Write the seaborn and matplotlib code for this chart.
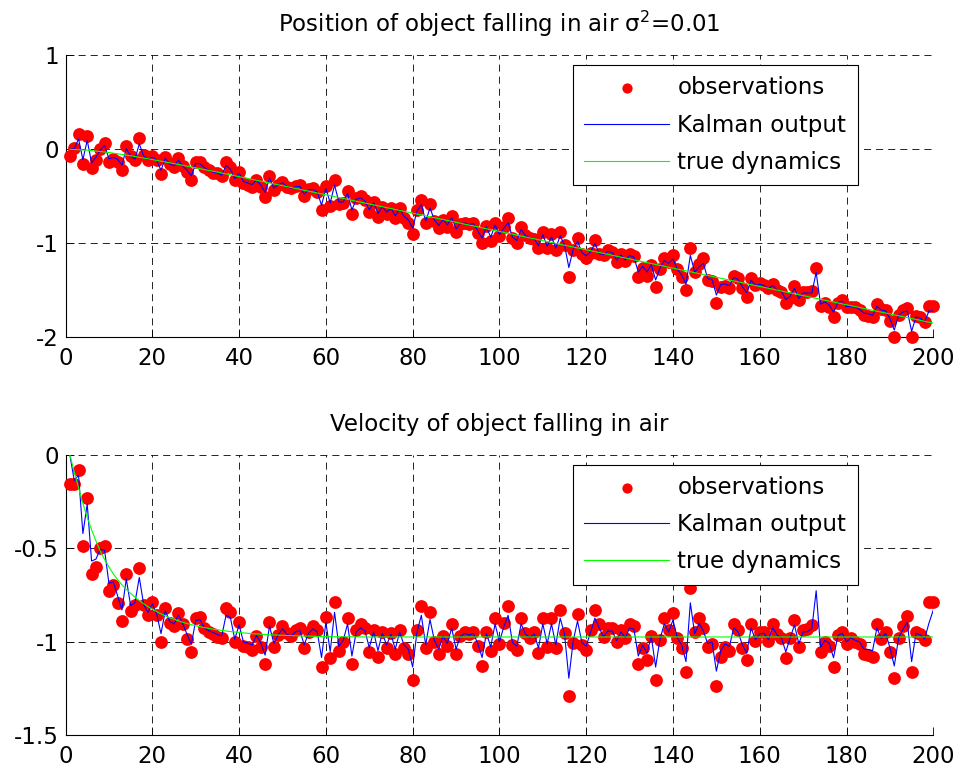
import matplotlib
matplotlib.use("Agg")
import matplotlib.pyplot as plt
import seaborn as sns

plt.rcParams['font.family'] = ['DejaVu Sans']
plt.rcParams['mathtext.fontset'] = 'dejavusans'
plt.rcParams['axes.unicode_minus'] = False

steps = list(range(1, 201))

pos_obs = [
    -0.071, 0.010, 0.159, -0.156, 0.142, -0.202, -0.114, 0.000, 0.070, -0.130,
    -0.107, -0.130, -0.220, 0.035, -0.071, -0.116, 0.117, -0.060, -0.114, -0.071,
    -0.114, -0.266, -0.078, -0.160, -0.185, -0.096, -0.180, -0.238, -0.326, -0.131,
    -0.131, -0.185, -0.220, -0.248, -0.255, -0.284, -0.131, -0.185, -0.326, -0.238,
    -0.362, -0.380, -0.397, -0.326, -0.397, -0.504, -0.284, -0.433, -0.378, -0.344,
    -0.397, -0.415, -0.390, -0.380, -0.497, -0.425, -0.415, -0.450, -0.646, -0.390,
    -0.603, -0.327, -0.582, -0.575, -0.440, -0.688, -0.522, -0.497, -0.540, -0.670,
    -0.557, -0.717, -0.610, -0.688, -0.628, -0.735, -0.628, -0.735, -0.788, -0.905,
    -0.646, -0.540, -0.788, -0.585, -0.760, -0.841, -0.750, -0.823, -0.710, -0.876,
    -0.790, -0.780, -0.800, -0.780, -0.887, -0.993, -0.816, -0.972, -0.780, -0.922,
    -0.823, -0.734, -0.947, -0.993, -0.823, -0.912, -0.940, -0.950, -1.054, -0.883,
    -1.054, -0.905, -1.071, -0.883, -1.018, -1.355, -1.071, -0.947, -1.114, -1.160,
    -1.100, -0.965, -1.114, -1.125, -1.070, -1.089, -1.196, -1.114, -1.185, -1.114,
    -1.135, -1.355, -1.266, -1.348, -1.231, -1.461, -1.277, -1.160, -1.196, -1.125,
    -1.277, -1.362, -1.497, -1.054, -1.302, -1.220, -1.160, -1.390, -1.397, -1.632,
    -1.468, -1.454, -1.479, -1.348, -1.373, -1.479, -1.568, -1.373, -1.444, -1.426,
    -1.440, -1.479, -1.433, -1.497, -1.514, -1.632, -1.578, -1.454, -1.603, -1.514,
    -1.514, -1.507, -1.266, -1.667, -1.632, -1.674, -1.780, -1.632, -1.603, -1.681,
    -1.674, -1.681, -1.709, -1.763, -1.770, -1.788, -1.646, -1.702, -1.709, -1.823,
    -1.993, -1.763, -1.709, -1.692, -1.993, -1.773, -1.788, -1.840, -1.667, -1.667,
]

pos_kal = [
    0.000, 0.007, 0.110, -0.111, 0.096, -0.145, -0.085, -0.007, 0.041, -0.101,
    -0.087, -0.105, -0.170, 0.006, -0.071, -0.104, 0.057, -0.070, -0.110, -0.083,
    -0.115, -0.224, -0.095, -0.155, -0.176, -0.115, -0.177, -0.221, -0.284, -0.151,
    -0.154, -0.195, -0.222, -0.244, -0.252, -0.275, -0.171, -0.212, -0.312, -0.254,
    -0.343, -0.359, -0.374, -0.327, -0.380, -0.458, -0.306, -0.413, -0.378, -0.357,
    -0.397, -0.413, -0.398, -0.394, -0.479, -0.432, -0.428, -0.454, -0.594, -0.418,
    -0.570, -0.380, -0.561, -0.560, -0.468, -0.645, -0.531, -0.517, -0.549, -0.643,
    -0.567, -0.682, -0.610, -0.668, -0.629, -0.706, -0.635, -0.712, -0.752, -0.837,
    -0.658, -0.587, -0.764, -0.625, -0.750, -0.810, -0.749, -0.803, -0.727, -0.846,
    -0.789, -0.785, -0.801, -0.790, -0.868, -0.945, -0.824, -0.936, -0.805, -0.907,
    -0.841, -0.782, -0.934, -0.969, -0.853, -0.918, -0.940, -0.950, -1.026, -0.909,
    -1.032, -0.931, -1.050, -0.921, -1.019, -1.258, -1.062, -0.978, -1.098, -1.133,
    -1.093, -1.002, -1.109, -1.120, -1.084, -1.100, -1.178, -1.124, -1.177, -1.130,
    -1.148, -1.305, -1.245, -1.305, -1.226, -1.390, -1.264, -1.185, -1.213, -1.167,
    -1.276, -1.338, -1.436, -1.129, -1.305, -1.251, -1.212, -1.376, -1.384, -1.550,
    -1.439, -1.432, -1.452, -1.364, -1.384, -1.461, -1.527, -1.393, -1.446, -1.436,
    -1.449, -1.479, -1.449, -1.497, -1.512, -1.597, -1.563, -1.479, -1.586, -1.527,
    -1.530, -1.528, -1.310, -1.646, -1.624, -1.656, -1.733, -1.632, -1.615, -1.673,
    -1.671, -1.679, -1.701, -1.742, -1.750, -1.766, -1.669, -1.711, -1.719, -1.801,
    -1.923, -1.765, -1.730, -1.721, -1.935, -1.784, -1.798, -1.837, -1.719, -1.722,
]

pos_true_x = [1, 5, 10, 15, 20, 25, 30, 35, 40, 45, 50, 60, 80, 100, 120, 140, 160, 180, 200]
pos_true_y = [0.0, -0.009, -0.034, -0.069, -0.109, -0.152, -0.197, -0.243, -0.291, -0.339,
              -0.387, -0.484, -0.679, -0.874, -1.069, -1.264, -1.459, -1.654, -1.849]

vel_obs = [
    -0.155, -0.155, -0.080, -0.490, -0.232, -0.640, -0.600, -0.500, -0.490, -0.726,
    -0.697, -0.791, -0.887, -0.640, -0.834, -0.803, -0.603, -0.803, -0.857, -0.786,
    -0.857, -1.003, -0.821, -0.900, -0.916, -0.844, -0.905, -0.985, -1.057, -0.875,
    -0.866, -0.928, -0.946, -0.959, -0.973, -0.982, -0.821, -0.839, -1.003, -0.893,
    -1.023, -1.030, -1.044, -0.970, -1.027, -1.119, -0.896, -1.027, -0.964, -0.916,
    -0.955, -0.970, -0.937, -0.928, -1.036, -0.950, -0.916, -0.937, -1.134, -0.866,
    -1.089, -0.789, -1.048, -1.003, -0.875, -1.121, -0.937, -0.905, -0.928, -1.057,
    -0.937, -1.080, -0.946, -1.036, -0.955, -1.068, -0.937, -1.036, -1.068, -1.205,
    -0.937, -0.809, -1.036, -0.841, -1.000, -1.068, -0.970, -1.023, -0.907, -1.068,
    -0.970, -0.948, -0.960, -0.948, -1.025, -1.132, -0.948, -1.050, -0.875, -1.012,
    -0.898, -0.809, -1.018, -1.045, -0.875, -0.952, -0.982, -0.950, -1.059, -0.875,
    -1.027, -0.875, -1.036, -0.830, -0.952, -1.291, -1.005, -0.852, -1.018, -1.045,
    -0.937, -0.830, -0.905, -0.973, -0.929, -0.929, -1.003, -0.937, -0.982, -0.905,
    -0.916, -1.121, -1.036, -1.098, -0.970, -1.205, -0.991, -0.875, -0.937, -0.845,
    -0.982, -1.036, -1.164, -0.714, -0.950, -0.871, -0.929, -1.027, -1.012, -1.237,
    -1.080, -1.027, -1.048, -0.905, -0.937, -1.036, -1.098, -0.905, -0.996, -0.950,
    -0.946, -0.996, -0.905, -0.959, -0.982, -1.089, -0.982, -0.884, -1.027, -0.937,
    -0.934, -0.911, -0.620, -1.053, -1.000, -1.023, -1.134, -0.964, -0.946, -1.012,
    -0.979, -1.000, -1.012, -1.068, -1.070, -1.080, -0.905, -0.986, -0.946, -1.057,
    -1.196, -0.982, -0.916, -0.862, -1.164, -0.946, -0.959, -0.990, -0.790, -0.790,
]

vel_kal = [
    0.000, -0.136, -0.109, -0.421, -0.263, -0.568, -0.558, -0.505, -0.511, -0.688,
    -0.679, -0.754, -0.830, -0.664, -0.807, -0.791, -0.656, -0.801, -0.844, -0.798,
    -0.852, -0.957, -0.834, -0.892, -0.905, -0.858, -0.903, -0.961, -1.013, -0.887,
    -0.882, -0.928, -0.941, -0.951, -0.962, -0.969, -0.858, -0.871, -0.987, -0.910,
    -1.002, -1.008, -1.018, -0.967, -1.007, -1.072, -0.916, -1.008, -0.965, -0.931,
    -0.960, -0.970, -0.947, -0.941, -1.016, -0.956, -0.932, -0.947, -1.085, -0.897,
    -1.053, -0.843, -1.025, -0.993, -0.905, -1.077, -0.948, -0.926, -0.942, -1.032,
    -0.948, -1.048, -0.955, -1.018, -0.961, -1.040, -0.948, -1.018, -1.040, -1.136,
    -0.948, -0.859, -1.018, -0.881, -0.993, -1.040, -0.972, -1.009, -0.927, -1.040,
    -0.972, -0.956, -0.965, -0.956, -1.010, -1.085, -0.956, -1.028, -0.905, -1.001,
    -0.921, -0.859, -1.005, -1.024, -0.905, -0.959, -0.980, -0.958, -1.034, -0.905,
    -1.011, -0.905, -1.018, -0.874, -0.959, -1.196, -0.996, -0.889, -1.005, -1.024,
    -0.948, -0.874, -0.926, -0.974, -0.943, -0.943, -0.995, -0.948, -0.980, -0.926,
    -0.934, -1.077, -1.018, -1.061, -0.972, -1.136, -0.986, -0.905, -0.948, -0.884,
    -0.980, -1.018, -1.107, -0.792, -0.958, -0.902, -0.943, -1.011, -1.001, -1.158,
    -1.048, -1.011, -1.026, -0.926, -0.948, -1.018, -1.061, -0.926, -0.990, -0.958,
    -0.955, -0.990, -0.926, -0.964, -0.980, -1.055, -0.980, -0.911, -1.011, -0.948,
    -0.946, -0.930, -0.727, -1.030, -0.993, -1.009, -1.086, -0.967, -0.955, -1.001,
    -0.978, -0.993, -1.001, -1.040, -1.042, -1.048, -0.926, -0.983, -0.955, -1.032,
    -1.130, -0.980, -0.934, -0.896, -1.107, -0.955, -0.964, -0.985, -0.900, -0.830,
]

vel_true_x = [1, 2, 3, 4, 5, 6, 7, 8, 9, 10, 11, 12, 13, 14, 15, 16, 17, 18, 19, 20,
              22, 24, 26, 28, 30, 32, 34, 36, 38, 40, 43, 46, 50, 55, 60, 70, 200]
vel_true_y = [0.0, -0.090, -0.175, -0.260, -0.335, -0.400, -0.460, -0.515, -0.560, -0.600,
              -0.637, -0.668, -0.696, -0.720, -0.742, -0.762, -0.780, -0.797, -0.812, -0.826,
              -0.851, -0.872, -0.889, -0.903, -0.915, -0.925, -0.933, -0.940, -0.946, -0.951,
              -0.957, -0.962, -0.966, -0.970, -0.973, -0.975, -0.975]

x_ticks = [0, 20, 40, 60, 80, 100, 120, 140, 160, 180, 200]
pos_yticks = [-2, -1, 0, 1]
pos_yticklabels = ['-2', '-1', '0', '1']
vel_yticks = [-1.5, -1.0, -0.5, 0.0]
vel_yticklabels = ['-1.5', '-1', '-0.5', '0']

FS = 16.5

fig = plt.figure(figsize=(9.61, 7.71), dpi=100)
ax1 = fig.add_axes([0.0682, 0.5625, 0.9030, 0.3658])
ax2 = fig.add_axes([0.0682, 0.0467, 0.9030, 0.3632])


def draw(ax, obs, kal, tx, ty, ylim, yticks, yticklabels, title):
    ax.set_axisbelow(True)
    sns.scatterplot(x=steps, y=obs, ax=ax, color=(1, 0, 0), s=85, linewidth=0,
                    label='observations', clip_on=False, zorder=3)
    sns.lineplot(x=steps, y=kal, ax=ax, color=(0, 0, 1), linewidth=0.8,
                 label='Kalman output', estimator=None, sort=False, zorder=4)
    sns.lineplot(x=tx, y=ty, ax=ax, color=(0, 1, 0), linewidth=0.8,
                 label='true dynamics', estimator=None, sort=False, zorder=4)
    ax.set_xlim(0, 200)
    ax.set_ylim(*ylim)
    ax.set_xticks(x_ticks)
    ax.set_xticklabels([str(t) for t in x_ticks])
    ax.set_yticks(yticks)
    ax.set_yticklabels(yticklabels)
    ax.set_xlabel('')
    ax.set_ylabel('')
    ax.grid(True, color='black', linestyle=(0, (8.5, 6)), linewidth=0.6)
    for s in ['top', 'right']:
        ax.spines[s].set_visible(False)
    for s in ['left', 'bottom']:
        ax.spines[s].set_color('black')
        ax.spines[s].set_linewidth(0.8)
    ax.tick_params(direction='in', length=6, width=0.6, colors='black',
                   labelsize=FS, top=False, right=False)
    ax.tick_params(axis='x', pad=7.0)
    ax.tick_params(axis='y', pad=5.0)
    ax.set_title(title, fontsize=FS, pad=17)
    leg = ax.legend(loc='upper right', bbox_to_anchor=(0.913, 0.9656), borderaxespad=0,
                    frameon=True, fancybox=False, edgecolor='black', framealpha=1,
                    fontsize=FS, handlelength=3.67, handletextpad=0.39, borderpad=0.5,
                    labelspacing=0.62, markerscale=0.8)
    leg.get_frame().set_linewidth(0.8)
    leg.set_zorder(10)


draw(ax1, pos_obs, pos_kal, pos_true_x, pos_true_y, (-2, 1), pos_yticks, pos_yticklabels,
     r'Position of object falling in air $\mathrm{\sigma}^{2}$=0.01')
draw(ax2, vel_obs, vel_kal, vel_true_x, vel_true_y, (-1.5, 0), vel_yticks, vel_yticklabels,
     'Velocity of object falling in air')

fig.savefig('out.png', dpi=100)
